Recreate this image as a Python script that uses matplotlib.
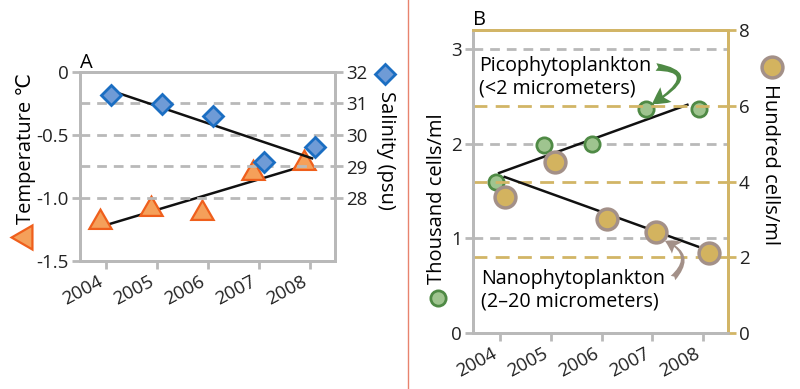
import matplotlib
matplotlib.use("Agg")
import matplotlib.pyplot as plt
from matplotlib.lines import Line2D
from matplotlib.patches import FancyArrowPatch
from matplotlib.path import Path
import matplotlib.transforms as mtransforms

plt.rcParams['font.family'] = ['Open Sans', 'DejaVu Sans']

# ---------------- data ----------------
years = [2004, 2005, 2006, 2007, 2008]
year_labels = ['2004', '2005', '2006', '2007', '2008']

temp_x = [2003.9, 2004.9, 2005.9, 2006.9, 2007.9]
temperature = [-1.19, -1.09, -1.12, -0.80, -0.72]
sal_x = [2004.1, 2005.1, 2006.1, 2007.1, 2008.1]
salinity = [31.27, 30.98, 30.61, 29.13, 29.62]
temp_trend_x = [2004.05, 2007.85]
temp_trend_y = [-1.21, -0.75]
sal_trend_x = [2004.27, 2008.05]
sal_trend_y = [31.32, 29.26]

pico_x = [2003.92, 2004.86, 2005.81, 2006.87, 2007.92]
pico = [1.59, 1.99, 2.00, 2.37, 2.37]          # thousand cells/ml
nano_x = [2004.09, 2005.09, 2006.10, 2007.08, 2008.12]
nano = [3.60, 4.52, 3.01, 2.66, 2.10]          # hundred cells/ml
pico_trend_x = [2003.98, 2007.69]
pico_trend_y = [1.69, 2.41]
nano_trend_x = [2004.09, 2007.90]
nano_trend_y = [4.12, 2.28]

temp_ticks = [0, -0.5, -1.0, -1.5]
temp_ticklabels = ['0', '-0.5', '-1.0', '-1.5']
sal_ticks = [28, 29, 30, 31, 32]
thou_ticks = [0, 1, 2, 3]
hund_ticks = [0, 2, 4, 6, 8]

# ---------------- style ----------------
GREY = '#b9b9b9'
GOLD = '#d2b566'
DIA_FACE, DIA_EDGE = '#6f9bd6', '#1b6ec2'
TRI_FACE, TRI_EDGE = '#f5a05a', '#ef5f1c'
GRN_FACE, GRN_EDGE = '#9fc48f', '#4f8a45'
TAN_FACE, TAN_EDGE = '#d3b35f', '#a39088'
FS = 13.5      # tick labels
AFS = 14.2     # annotations
LFS = 14.5     # axis labels
TRI_UP = (3, 0, 0)
TRI_LEFT = (3, 0, 90)

fig = plt.figure(figsize=(8.0, 3.89), dpi=100)

def fx(px):
    return px / 800.0

def fy(py):
    return 1 - py / 389.0

def style_xticks(ax, shift_px):
    ax.set_xticks(years)
    ax.set_xticklabels(year_labels, rotation=28, ha='right', fontsize=FS)
    off = mtransforms.ScaledTranslation(shift_px / 100.0, 0, fig.dpi_scale_trans)
    for lab in ax.get_xticklabels():
        lab.set_transform(lab.get_transform() + off)

# ---------------- panel A ----------------
axA = fig.add_axes([fx(80), fy(261), fx(335 - 80), fy(72) - fy(261)])
axA2 = axA.twinx()
axA.set_xlim(2003.5, 2008.5)
axA.set_ylim(-1.5, 0)
axA2.set_ylim(26, 32)
for s in sal_ticks[:-1]:
    axA2.axhline(s, color=GREY, lw=2, ls=(0, (3.5, 2.5)), zorder=0)
for ax in (axA, axA2):
    for sp in ax.spines.values():
        sp.set_color(GREY)
        sp.set_linewidth(2)
axA.plot(temp_trend_x, temp_trend_y, color='#111111', lw=1.8, zorder=3)
axA.plot(temp_x, temperature, ls='none', marker=TRI_UP, ms=18.5, mfc=TRI_FACE,
         mec=TRI_EDGE, mew=1.6, zorder=4)
axA2.plot(sal_trend_x, sal_trend_y, color='#111111', lw=1.8, zorder=3)
axA2.plot(sal_x, salinity, ls='none', marker='D', ms=10, mfc=DIA_FACE,
          mec=DIA_EDGE, mew=2, zorder=4)
axA.set_yticks(temp_ticks)
axA.set_yticklabels(temp_ticklabels, fontsize=FS)
axA2.set_yticks(sal_ticks)
axA2.set_yticklabels([str(s) for s in sal_ticks], fontsize=FS)
style_xticks(axA, 10)
axA.tick_params(colors=GREY, labelcolor='#222222', width=2, length=6, pad=2)
axA2.tick_params(colors=GREY, labelcolor='#222222', width=2, length=6, pad=2)
fig.text(fx(80), fy(68), 'A', fontsize=LFS, ha='left', va='baseline')

fig.text(fx(26), fy(148), 'Temperature ℃', rotation=90, fontsize=LFS,
         ha='center', va='center')
fig.add_artist(Line2D([fx(25)], [fy(237)], marker=TRI_LEFT, ms=20, mfc=TRI_FACE,
                      mec=TRI_EDGE, mew=1.6, ls='none'))
fig.text(fx(386), fy(150), 'Salinity (psu)', rotation=-90, fontsize=LFS,
         ha='center', va='center')
fig.add_artist(Line2D([fx(385)], [fy(74)], marker='D', ms=10, mfc=DIA_FACE,
                      mec=DIA_EDGE, mew=2, ls='none'))

# separator
fig.add_artist(Line2D([fx(408), fx(408)], [0, 1], color='#e8836e', lw=1))

# ---------------- panel B ----------------
axB = fig.add_axes([fx(472.7), fy(333), fx(728 - 472.7), fy(30) - fy(333)])
axB2 = axB.twinx()
axB.set_xlim(2003.46, 2008.49)
axB.set_ylim(0, 3.2)
axB2.set_ylim(0, 8)
for t in thou_ticks[1:]:
    axB.axhline(t, color=GREY, lw=2, ls=(0, (3.5, 2.5)), zorder=0)
for t in hund_ticks[1:-1]:
    axB2.axhline(t, color=GOLD, lw=2, ls=(0, (5, 3)), zorder=0)
for ax in (axB, axB2):
    for name, sp in ax.spines.items():
        sp.set_linewidth(2)
        sp.set_color(GOLD if name in ('top', 'right') else GREY)
axB.plot(pico_trend_x, pico_trend_y, color='#111111', lw=1.8, zorder=3)
axB.plot(pico_x, pico, ls='none', marker='o', ms=11, mfc=GRN_FACE,
         mec=GRN_EDGE, mew=2, zorder=4)
axB2.plot(nano_trend_x, nano_trend_y, color='#111111', lw=1.8, zorder=3)
axB2.plot(nano_x, nano, ls='none', marker='o', ms=15, mfc=TAN_FACE,
          mec=TAN_EDGE, mew=2.5, zorder=4)
axB.set_yticks(thou_ticks)
axB.set_yticklabels([str(t) for t in thou_ticks], fontsize=FS)
axB2.set_yticks(hund_ticks)
axB2.set_yticklabels([str(t) for t in hund_ticks], fontsize=FS)
style_xticks(axB, 12)
axB.tick_params(colors=GREY, labelcolor='#222222', width=2, length=6, pad=2)
axB2.tick_params(colors=GOLD, labelcolor='#222222', width=2, length=6, pad=2)
fig.text(fx(473), fy(25), 'B', fontsize=LFS, ha='left', va='baseline')

fig.text(fx(479), fy(77), 'Picophytoplankton\n(<2 micrometers)',
         fontsize=AFS, ha='left', va='center', linespacing=1.15, zorder=5)
fig.text(fx(481), fy(290), 'Nanophytoplankton\n(2–20 micrometers)',
         fontsize=AFS, ha='left', va='center', linespacing=1.15, zorder=5)

def curved_arrow(p0, p1, p2, color, scale):
    verts = [(fx(p0[0]), fy(p0[1])), (fx(p1[0]), fy(p1[1])), (fx(p2[0]), fy(p2[1]))]
    path = Path(verts, [Path.MOVETO, Path.CURVE3, Path.CURVE3])
    arr = FancyArrowPatch(path=path, transform=fig.transFigure,
                          arrowstyle='fancy,head_length=0.55,head_width=0.6,tail_width=0.25',
                          mutation_scale=scale, color=color, lw=0, zorder=6,
                          shrinkA=0, shrinkB=0)
    fig.add_artist(arr)

curved_arrow((656, 67), (704, 72), (652, 104), GRN_EDGE, 22)
curved_arrow((673, 278), (696, 254), (665, 241), TAN_EDGE, 18)

fig.text(fx(437), fy(199), 'Thousand cells/ml', rotation=90, fontsize=LFS,
         ha='center', va='center')
fig.add_artist(Line2D([fx(438)], [fy(298)], marker='o', ms=11, mfc=GRN_FACE,
                      mec=GRN_EDGE, mew=2, ls='none'))
fig.text(fx(770), fy(165), 'Hundred cells/ml', rotation=-90, fontsize=LFS,
         ha='center', va='center')
fig.add_artist(Line2D([fx(772)], [fy(67)], marker='o', ms=15, mfc=TAN_FACE,
                      mec=TAN_EDGE, mew=2.5, ls='none'))

fig.savefig('out.png', dpi=100)
